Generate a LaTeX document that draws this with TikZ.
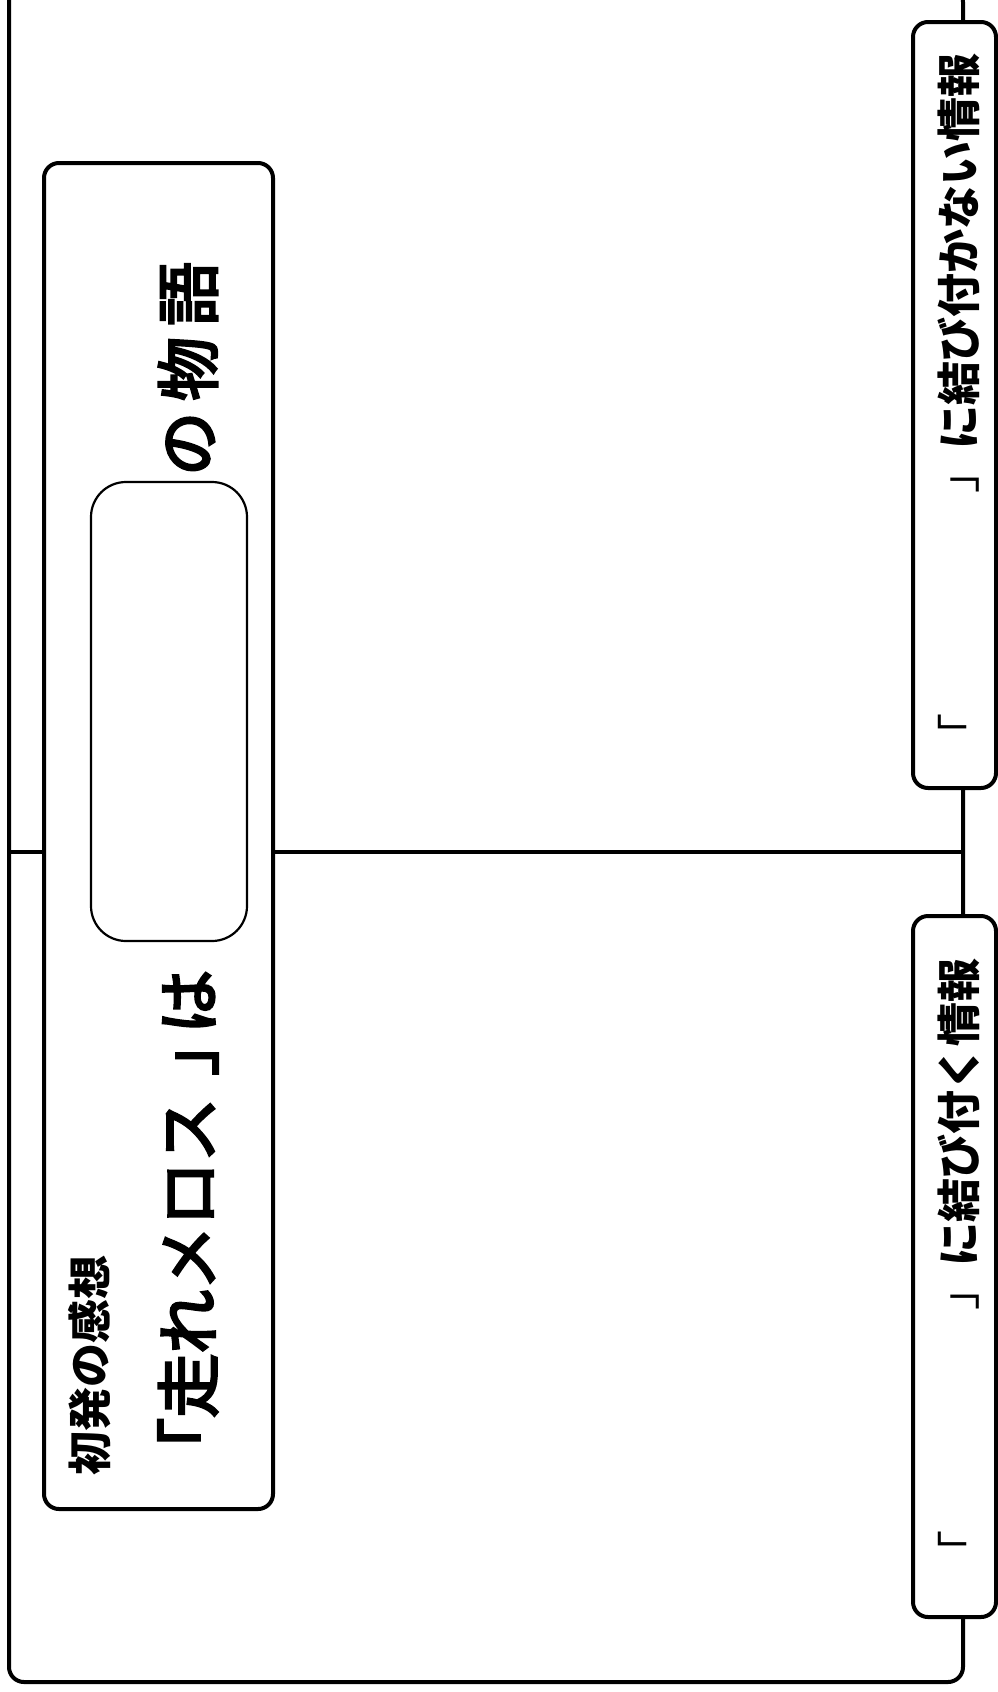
\documentclass[tikz,border=0pt]{standalone}
\usepackage{fontspec}
\setmainfont{Noto Sans CJK JP}
\newfontfamily\futoi{Noto Sans CJK JP}[FakeBold=4]
\begin{document}
\begin{tikzpicture}[x=1pt, y=-1pt,
    waku/.style={draw, line width=4pt, rounded corners=15pt, fill=white},
    ran/.style={draw, line width=2.2pt, rounded corners=35pt, fill=white},
    midashi/.style={rotate=90, inner sep=0pt, font=\fontsize{44}{44}\selectfont\bfseries},
    honbun/.style={rotate=90, inner sep=0pt, font=\fontsize{64}{64}\selectfont\futoi}]
    \useasboundingbox (0, 0) rectangle (998, 1692);
    \clip (0, 0) rectangle (998, 1692);
         \draw[waku, fill=none] (9, -13) rectangle (963, 1682);
         \coordinate (hidari) at (9, 852);
         \coordinate (migi) at (963, 852);
         \draw[line width=4pt] (hidari) -- (migi);
         \draw[waku] (44, 163) rectangle (273, 1509);
             \node[midashi, anchor=west] (kanso) at (90, 1476) {初発の感想};
             \node[honbun, anchor=west] (daimei) at (188, 1482) {「走れメロス\hspace{22pt}」\hspace{-22pt}は};
             \draw[ran] (91, 482) rectangle (247, 941);
             \node[honbun, anchor=west] (monogatari) at (188, 476) {の\hspace{11pt}物\hspace{11pt}語};
         \draw[waku] (913, 22) rectangle (996, 788);
             \node[midashi] (musubanai) at (959, 405) {{\mdseries「　　　　　」}に結び付かない情報};
         \draw[waku] (913, 916) rectangle (996, 1617);
             \node[midashi] (musubu) at (959, 1266) {{\mdseries「　　　　　」}に結び付く情報};
\end{tikzpicture}
\end{document}
